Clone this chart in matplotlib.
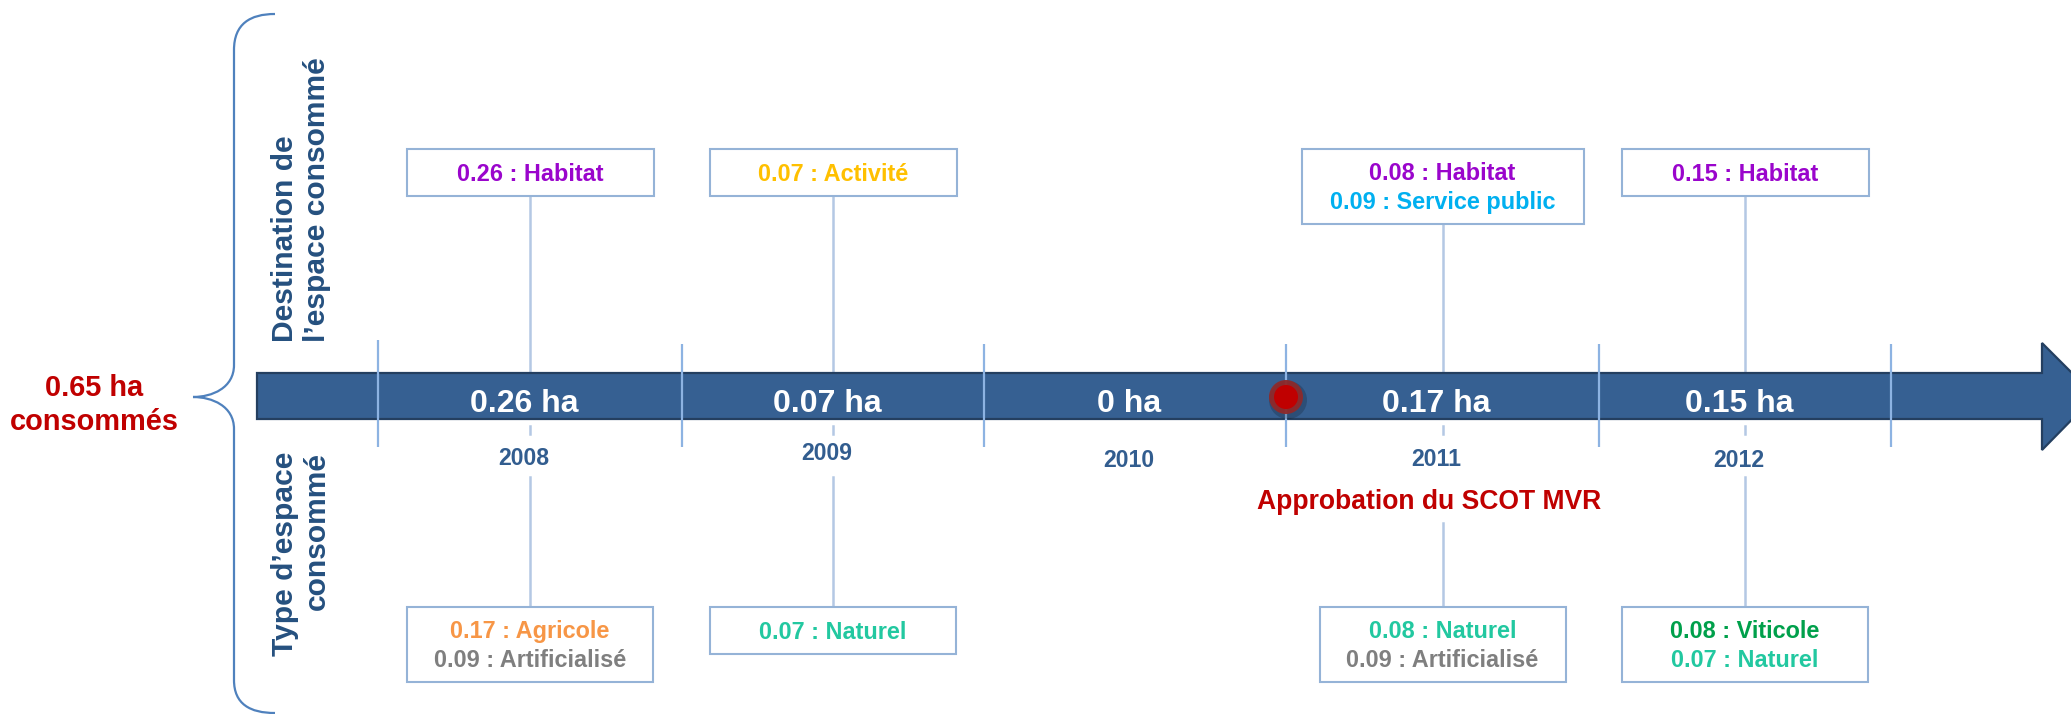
import matplotlib
matplotlib.use("Agg")
import matplotlib.pyplot as plt
from matplotlib.patches import Polygon, Rectangle, Circle, PathPatch
from matplotlib.path import Path

# ---------------- data ----------------
years = ["2008", "2009", "2010", "2011", "2012"]
total_ha = [0.26, 0.07, 0.0, 0.17, 0.15]
grand_total_ha = 0.65

dest_values = [[0.26], [0.07], [], [0.08, 0.09], [0.15]]
dest_labels = [["Habitat"], ["Activité"], [], ["Habitat", "Service public"], ["Habitat"]]

type_values = [[0.17, 0.09], [0.07], [], [0.08, 0.09], [0.08, 0.07]]
type_labels = [["Agricole", "Artificialisé"], ["Naturel"], [],
               ["Naturel", "Artificialisé"], ["Viticole", "Naturel"]]

event_label = "Approbation du SCOT MVR"
event_after_year = "2010"   # approval between 2010 and 2011

top_title = "Destination de\nl’espace consommé"
bottom_title = "Type d’espace\nconsommé"

# ---------------- style ----------------
cat_colors = {
    "Habitat": "#9A05CC",
    "Activité": "#FFC000",
    "Service public": "#00B0F0",
    "Agricole": "#F79646",
    "Artificialisé": "#7F7F7F",
    "Naturel": "#22C8A0",
    "Viticole": "#00A04B",
}
BAR = "#366092"
BAR_EDGE = "#243F60"
SEP = "#8DB3E2"
CONN = "#B4C8E4"
BOX_EDGE = "#95B3D7"
YEAR_C = "#325D8F"
SIDE_C = "#25507F"
RED = "#C00000"

plt.rcParams["font.family"] = ["Liberation Sans", "DejaVu Sans"]

W, H = 2071, 714
fig = plt.figure(figsize=(W / 100, H / 100), dpi=100)
ax = fig.add_axes([0, 0, 1, 1])
ax.set_xlim(0, W)
ax.set_ylim(H, 0)
ax.axis("off")

PT = 0.72  # points per pixel at 100 dpi

# layout (pixels)
sep_x = [378, 682, 984, 1286, 1599, 1891]
centers = [(sep_x[i] + sep_x[i + 1]) / 2 for i in range(len(years))]
bar_top, bar_bot = 373, 419
bar_mid = (bar_top + bar_bot) / 2
bar_left = 257
head_x, head_top, head_bot = 2042, 343, 450
tip_x = head_x + (bar_mid - head_top)

# ---------------- arrow ----------------
arrow = Polygon([(bar_left, bar_top), (head_x, bar_top), (head_x, head_top),
                 (tip_x, bar_mid), (head_x, head_bot), (head_x, bar_bot),
                 (bar_left, bar_bot)], closed=True,
                facecolor=BAR, edgecolor=BAR_EDGE, lw=1.6, zorder=2)
ax.add_patch(arrow)

# separators
for i, sx in enumerate(sep_x):
    y0 = 340 if i == 0 else 344
    ax.plot([sx, sx], [y0, 447], color=SEP, lw=1.6, zorder=3, solid_capstyle="butt")

# ---------------- per-year content ----------------
year_label_y = [457, 452, 459, 458, 459]
upper_w = [247, 247, 0, 282, 247]
lower_w = [246, 246, 0, 246, 246]
box_top_upper = 149
box_top_lower = 607
single_h, double_h = 47, 75
line_gap = 29

def fmt_total(v):
    return ("%g" % v) + " ha"

def draw_box(cx, top, width, vals, labs):
    n = len(vals)
    h = single_h if n == 1 else double_h
    ax.add_patch(Rectangle((cx - width / 2, top), width, h, facecolor="white",
                           edgecolor=BOX_EDGE, lw=1.5, zorder=4))
    mid = top + h / 2
    first = mid - (n - 1) * line_gap / 2
    for k, (v, lab) in enumerate(zip(vals, labs)):
        yc = first + k * line_gap
        ax.text(cx, yc + 0.358 * 23.5, "%.2f : %s" % (v, lab),
                color=cat_colors[lab], fontsize=23.5 * PT, fontweight="bold",
                ha="center", va="baseline", zorder=5)
    return h

event_idx = years.index(event_after_year) + 1

for i, y in enumerate(years):
    cx = centers[i]
    # total on bar
    ax.text(cx - 6, bar_mid + 5 + 0.358 * 32, fmt_total(total_ha[i]), color="white",
            fontsize=32 * PT, fontweight="bold", ha="center", va="baseline", zorder=5)
    # year label
    ax.text(cx - 6, year_label_y[i] + 0.358 * 23, y, color=YEAR_C,
            fontsize=23 * PT, fontweight="bold", ha="center", va="baseline", zorder=5)
    if dest_values[i]:
        h = draw_box(cx, box_top_upper, upper_w[i], dest_values[i], dest_labels[i])
        ax.plot([cx, cx], [box_top_upper + h, bar_top], color=CONN, lw=1.8, zorder=1)
    if type_values[i]:
        ax.plot([cx, cx], [426, 434], color=CONN, lw=1.8, zorder=1)
        start = 523 if i == event_idx else 477
        ax.plot([cx, cx], [start, box_top_lower], color=CONN, lw=1.8, zorder=1)
        draw_box(cx, box_top_lower, lower_w[i], type_values[i], type_labels[i])

# ---------------- event marker ----------------
ex = sep_x[event_idx]
ax.add_patch(Circle((ex + 2, bar_mid + 4), 19, facecolor="#000000", alpha=0.18,
                    edgecolor="none", zorder=6))
ax.add_patch(Circle((ex, bar_mid + 1), 17, facecolor="#8E2A2A", edgecolor="none",
                    alpha=0.95, zorder=7))
ax.add_patch(Circle((ex, bar_mid + 1), 12, facecolor=RED, edgecolor="none", zorder=8))
ax.text(1429, 500 + 0.358 * 26.5, event_label, color=RED, fontsize=26.5 * PT,
        fontweight="bold", ha="center", va="baseline", zorder=5)

# ---------------- brace & side texts ----------------
verts = [(275, 14), (250, 14), (234, 24), (234, 50),
         (234, 365),
         (234, 388), (212, 397), (193, 397),
         (212, 397), (234, 406), (234, 429),
         (234, 680),
         (234, 704), (250, 713), (275, 713)]
codes = [Path.MOVETO, Path.CURVE4, Path.CURVE4, Path.CURVE4,
         Path.LINETO,
         Path.CURVE4, Path.CURVE4, Path.CURVE4,
         Path.CURVE4, Path.CURVE4, Path.CURVE4,
         Path.LINETO,
         Path.CURVE4, Path.CURVE4, Path.CURVE4]
ax.add_patch(PathPatch(Path(verts, codes), facecolor="none", edgecolor="#4F81BD",
                       lw=1.6, zorder=3))

ax.text(94, 396, "%.2f ha" % grand_total_ha, color=RED, fontsize=29 * PT,
        fontweight="bold", ha="center", va="baseline")
ax.text(94, 430, "consommés", color=RED, fontsize=29 * PT,
        fontweight="bold", ha="center", va="baseline")

ax.text(301, 342, top_title, rotation=90, color=SIDE_C, fontsize=30 * PT,
        fontweight="bold", ha="center", va="bottom", multialignment="left",
        linespacing=1.17)
ax.text(301, 452, bottom_title, rotation=90, color=SIDE_C, fontsize=30 * PT,
        fontweight="bold", ha="center", va="top", multialignment="right",
        linespacing=1.17)

fig.savefig("out.png", dpi=100)
